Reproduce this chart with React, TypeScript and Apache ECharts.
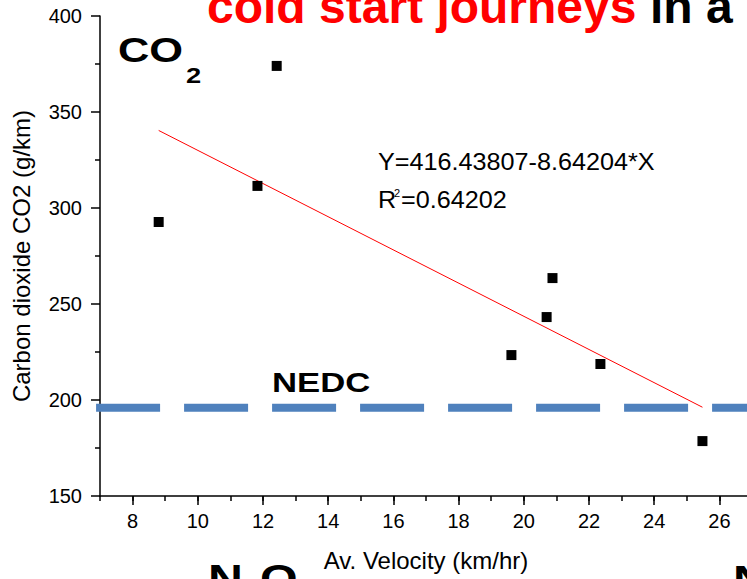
import React, { useEffect, useRef } from "react";
import * as echarts from "echarts";

// ---- data ----
const velocity = [8.8, 11.83, 12.42, 19.62, 20.7, 20.88, 22.35, 25.48];
const co2 = [292.7, 311.5, 374.0, 223.4, 243.2, 263.5, 218.75, 178.6];
const fitIntercept = 416.43807;
const fitSlope = -8.64204;
const fitR2Text = "0.64202";
const nedcValue = 196;
const nedcXRange = [6.88, 27];
const xMajorTicks = [8, 10, 12, 14, 16, 18, 20, 22, 24, 26];
const xMin = 7;
const xMax = 27;
const yMin = 150;
const yMax = 400;
const yInterval = 50;

const FONT = "'Liberation Sans', Arial, Helvetica, sans-serif";

function txt(
  x: number,
  y: number,
  text: string,
  size: number,
  opts: { bold?: boolean; fill?: string; scaleX?: number } = {}
) {
  return {
    type: "text",
    x,
    y,
    scaleX: opts.scaleX ?? 1,
    silent: true,
    style: {
      text,
      fill: opts.fill ?? "#000",
      fontSize: size,
      fontWeight: opts.bold ? "bold" : "normal",
      fontFamily: FONT,
      align: "left",
      verticalAlign: "middle",
      textAlign: "left",
      textVerticalAlign: "middle",
    },
  };
}

export default function App() {
  const ref = useRef<HTMLDivElement>(null);
  useEffect(() => {
    const chart = echarts.init(ref.current!, null, { renderer: "svg" });
    const xs = [Math.min(...velocity), Math.max(...velocity)];
    const fitLine = xs.map((x) => [x, fitIntercept + fitSlope * x]);
    const points = velocity.map((v, i) => [v, co2[i]]);
    const fitLabel = `Y=${fitIntercept.toFixed(5)}${fitSlope.toFixed(5)}*X`;

    chart.setOption({
      animation: false,
      textStyle: { fontFamily: FONT },
      grid: {
        left: 100,
        top: 16,
        bottom: 83,
        right: -5,
        containLabel: false,
        outerBoundsMode: "none",
      },
      xAxis: [
        {
          type: "value",
          min: xMin,
          max: xMax,
          interval: 1,
          axisLine: { show: true, onZero: false, lineStyle: { color: "#000", width: 1.5 } },
          axisTick: { show: true, length: 5, lineStyle: { color: "#000", width: 1.5 } },
          axisLabel: { show: false },
          splitLine: { show: false },
          name: "Av. Velocity (km/hr)",
          nameLocation: "middle",
          nameGap: 52,
          nameTextStyle: { fontSize: 24, color: "#000", fontFamily: FONT },
        },
        {
          type: "value",
          min: xMin,
          max: xMax,
          position: "bottom",
          axisLine: { show: false, onZero: false },
          axisTick: {
            show: true,
            length: 9,
            customValues: xMajorTicks,
            lineStyle: { color: "#000", width: 1.5 },
          },
          axisLabel: {
            show: true,
            customValues: xMajorTicks,
            margin: 15,
            fontSize: 20,
            color: "#000",
            fontFamily: FONT,
          },
          splitLine: { show: false },
        },
      ],
      yAxis: {
        type: "value",
        min: yMin,
        max: yMax,
        interval: yInterval,
        axisLine: { show: true, onZero: false, lineStyle: { color: "#000", width: 1.5 } },
        axisTick: { show: true, length: 9, lineStyle: { color: "#000", width: 1.5 } },
        minorTick: { show: true, splitNumber: 2, length: 5, lineStyle: { color: "#000", width: 1.5 } },
        axisLabel: { margin: 18, fontSize: 20, color: "#000", fontFamily: FONT },
        splitLine: { show: false },
        name: "Carbon dioxide CO2 (g/km)",
        nameLocation: "middle",
        nameGap: 67,
        nameTextStyle: { fontSize: 24, color: "#000", fontFamily: FONT },
      },
      series: [
        {
          name: "NEDC",
          type: "line",
          xAxisIndex: 0,
          data: nedcXRange.map((x) => [x, nedcValue]),
          symbol: "none",
          clip: false,
          lineStyle: { color: "#4F81BD", width: 8, type: [64, 24] },
          z: 1,
        },
        {
          name: "fit",
          type: "line",
          xAxisIndex: 0,
          data: fitLine,
          symbol: "none",
          lineStyle: { color: "#ff0000", width: 1 },
          z: 2,
        },
        {
          name: "CO2",
          type: "scatter",
          xAxisIndex: 0,
          data: points,
          symbol: "rect",
          symbolSize: 10,
          itemStyle: { color: "#000", opacity: 1 },
          z: 3,
        },
      ],
      graphic: [
        txt(207, 6, "cold start journeys", 48, { bold: true, fill: "#ff0000" }),
        txt(650, 6, "in a", 48, { bold: true }),
        txt(118, 50, "CO", 35, { bold: true, scaleX: 1.24 }),
        txt(186, 75, "2", 22, { bold: true, scaleX: 1.24 }),
        txt(272, 382, "NEDC", 28, { bold: true, scaleX: 1.24 }),
        txt(378, 162, fitLabel, 24, { scaleX: 1.05 }),
        txt(378, 200, "R", 24, { scaleX: 1.05 }),
        txt(394, 193, "2", 11, {}),
        txt(401, 200, "=" + fitR2Text, 24, { scaleX: 1.05 }),
        txt(208, 578, "N", 39, { bold: true, scaleX: 1.24 }),
        txt(244, 605, "2", 22, { bold: true, scaleX: 1.24 }),
        txt(260, 578, "O", 39, { bold: true, scaleX: 1.24 }),
        txt(733, 579, "N", 39, { bold: true, scaleX: 1.24 }),
      ],
    });
    return () => chart.dispose();
  }, []);
  return (
    <div
      ref={ref}
      style={{ position: "absolute", left: 0, top: 0, width: 747, height: 579 }}
    />
  );
}
